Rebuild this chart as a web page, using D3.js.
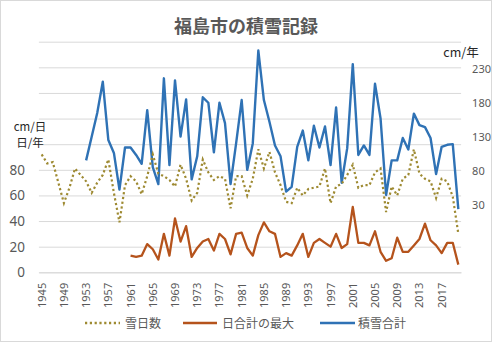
<!DOCTYPE html>
<html>
<head>
<meta charset="utf-8">
<script src="https://cdn.jsdelivr.net/npm/d3@7"></script>
<style>
  html, body { margin: 0; padding: 0; background: #fff; }
  svg { display: block; font-family: "Noto Sans CJK JP", "Noto Sans", sans-serif; }
</style>
</head>
<body>
<svg id="chart" width="492" height="342"></svg>
<script>
// 福島市 年別の積雪記録 (1945–2020)
const years = [1945,1946,1947,1948,1949,1950,1951,1952,1953,1954,1955,1956,1957,1958,1959,1960,
  1961,1962,1963,1964,1965,1966,1967,1968,1969,1970,1971,1972,1973,1974,1975,1976,1977,1978,1979,1980,
  1981,1982,1983,1984,1985,1986,1987,1988,1989,1990,1991,1992,1993,1994,1995,1996,1997,1998,1999,2000,
  2001,2002,2003,2004,2005,2006,2007,2008,2009,2010,2011,2012,2013,2014,2015,2016,2017,2018,2019,2020];

// 雪日数 (日/年)
const snowDays = [92,85,86,70,54,66,81,76,71,62,70,76,88,62,39,68,
  75,71,61,75,92,77,75,72,67,84,73,56,62,88,78,72,75,73,50,75,
  75,60,73,96,81,94,78,68,55,54,66,60,65,66,67,81,54,67,69,76,
  84,66,68,68,78,81,47,67,60,73,76,96,77,73,71,58,73,71,59,30];

// 日合計の最大 (cm/日)
const dailyMax = [null,null,null,null,null,null,null,null,null,null,null,null,null,null,null,null,
  13,12,13,22,18,10,30,13,42,24,36,12,19,24,26,17,30,26,14,30,
  31,19,13,29,39,32,30,12,15,13,21,30,12,23,26,23,20,30,19,22,
  51,23,23,21,32,16,9,11,27,16,16,21,26,38,25,21,15,23,23,6];

// 積雪合計 (cm/年)
const snowTotal = [null,null,null,null,null,null,null,null,95,130,165,211,125,106,52,114,
  114,103,90,169,85,60,216,88,213,130,185,67,101,188,180,107,180,150,60,120,
  184,81,120,257,184,152,117,101,49,56,115,139,95,146,114,145,88,173,62,113,
  237,103,117,103,208,157,44,95,95,128,111,164,147,144,128,75,115,118,119,23];

const xTickLabels = ["1945","1949","1953","1957","1961","1965","1969","1973","1977",
  "1981","1985","1989","1993","1997","2001","2005","2009","2013","2017"];
const leftGridValues = [0,20,40,60,80,100,120,140,160,180];
const leftTickLabels = [0,20,40,60,80];
const rightTickLabels = [30,80,130,180,230];

const seriesNames = ["雪日数", "日合計の最大", "積雪合計"];
const colors = { days: "#9e8a32", max: "#b5531c", total: "#2f72b5" };

const svg = d3.select("#chart");
const W = 492, H = 342;
const plot = { left: 38.9, right: 461.1, top: 41.7, bottom: 272.3 };

// outer frame
svg.append("rect")
  .attr("x", 0.5).attr("y", 0.5).attr("width", W - 1).attr("height", H - 1)
  .attr("fill", "#fff").attr("stroke", "#d9d9d9");

const x = d3.scaleBand().domain(years).range([plot.left, plot.right]).padding(0);
const xc = d => x(d) + x.bandwidth() / 2;
const yL = d3.scaleLinear().domain([0, 180]).range([plot.bottom, plot.top]);
const yR = d3.scaleLinear().domain([-70, 270]).range([plot.bottom, plot.top]);

// horizontal grid
const grid = svg.append("g")
  .attr("transform", `translate(${plot.left},0)`)
  .call(d3.axisLeft(yL).tickValues(leftGridValues).tickSize(-(plot.right - plot.left)).tickFormat(""));
grid.select(".domain").remove();
grid.selectAll(".tick line").attr("stroke", "#d9d9d9").attr("stroke-width", 1);

// left axis labels
const axL = svg.append("g")
  .attr("transform", `translate(${plot.left},0)`)
  .call(d3.axisLeft(yL).tickValues(leftTickLabels).tickSize(0).tickPadding(14));
axL.select(".domain").remove();
axL.selectAll("text").attr("font-size", 13.5).attr("fill", "#595959")
  .attr("font-family", "'Noto Sans', sans-serif");

// right axis labels
const axR = svg.append("g")
  .attr("transform", `translate(${plot.right},0)`)
  .call(d3.axisRight(yR).tickValues(rightTickLabels).tickSize(0).tickPadding(11));
axR.select(".domain").remove();
axR.selectAll("text").attr("font-size", 11).attr("fill", "#595959")
  .attr("font-family", "'Noto Sans', sans-serif");

// x axis (year labels, vertical)
const axX = svg.append("g")
  .attr("transform", `translate(0,${plot.bottom})`)
  .call(d3.axisBottom(x).tickValues(xTickLabels.map(Number)).tickSize(0));
axX.select(".domain").attr("stroke", "#d9d9d9");
axX.selectAll("text")
  .attr("transform", "rotate(-90)")
  .attr("x", -10.5).attr("y", 0).attr("dy", "0.36em")
  .attr("text-anchor", "end")
  .attr("font-size", 11).attr("fill", "#595959")
  .attr("font-family", "'Noto Sans', sans-serif");

// series lines
const lineL = d3.line().defined(d => d[1] != null).x(d => xc(d[0])).y(d => yL(d[1]));
const lineR = d3.line().defined(d => d[1] != null).x(d => xc(d[0])).y(d => yR(d[1]));

svg.append("path")
  .datum(years.map((yr, i) => [yr, snowTotal[i]]))
  .attr("d", lineR).attr("fill", "none")
  .attr("stroke", colors.total).attr("stroke-width", 2.4).attr("stroke-linejoin", "round");

svg.append("path")
  .datum(years.map((yr, i) => [yr, dailyMax[i]]))
  .attr("d", lineL).attr("fill", "none")
  .attr("stroke", colors.max).attr("stroke-width", 2.3).attr("stroke-linejoin", "round");

svg.append("path")
  .datum(years.map((yr, i) => [yr, snowDays[i]]))
  .attr("d", lineL).attr("fill", "none")
  .attr("stroke", colors.days).attr("stroke-width", 2.2)
  .attr("stroke-dasharray", "2.2,2.6");

// title
svg.append("text")
  .attr("x", 246).attr("y", 32.5).attr("text-anchor", "middle")
  .attr("font-size", 18).attr("font-weight", "bold").attr("fill", "#595959")
  .text("福島市の積雪記録");

// unit labels (left unit is a two-line label)
const unitL = svg.append("text").attr("text-anchor", "middle")
  .attr("font-size", 11.5).attr("fill", "#262626");
unitL.append("tspan").attr("x", 30).attr("y", 130.5).text("cm/日");
unitL.append("tspan").attr("x", 30).attr("dy", 16.8).text("日/年");
svg.append("text").attr("x", 461).attr("y", 57).attr("text-anchor", "middle")
  .attr("font-size", 12.5).attr("fill", "#262626").text("cm/年");

// legend
const legendItems = [
  { name: seriesNames[0], color: colors.days, dash: "2.2,2.6", x0: 85, x1: 120, tx: 125 },
  { name: seriesNames[1], color: colors.max, dash: null, x0: 183, x1: 217, tx: 222 },
  { name: seriesNames[2], color: colors.total, dash: null, x0: 320, x1: 355, tx: 358 }
];
const lg = svg.append("g");
legendItems.forEach(it => {
  lg.append("line").attr("x1", it.x0).attr("x2", it.x1).attr("y1", 323).attr("y2", 323)
    .attr("stroke", it.color).attr("stroke-width", 2.3)
    .attr("stroke-dasharray", it.dash);
  lg.append("text").attr("x", it.tx).attr("y", 327.5)
    .attr("font-size", 12).attr("fill", "#595959").text(it.name);
});
</script>
</body>
</html>
